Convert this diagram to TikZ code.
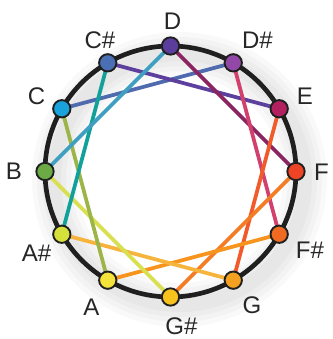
\documentclass[tikz,border=0pt]{standalone}
\usepackage{fontspec}
\setmainfont{Liberation Sans}
\definecolor{notaC}{HTML}{1AA3DA}
\definecolor{notaCs}{HTML}{4A6FB5}
\definecolor{notaD}{HTML}{5B3E9C}
\definecolor{notaDs}{HTML}{9248A6}
\definecolor{notaE}{HTML}{B3205F}
\definecolor{notaF}{HTML}{EE4426}
\definecolor{notaFs}{HTML}{F06A22}
\definecolor{notaG}{HTML}{F4A020}
\definecolor{notaGs}{HTML}{F7C21B}
\definecolor{notaA}{HTML}{F4E33A}
\definecolor{notaAs}{HTML}{D6E03A}
\definecolor{notaB}{HTML}{6BAA45}
\definecolor{lineaCDs}{HTML}{4F6BAE}
\definecolor{lineaCsE}{HTML}{5D3F9E}
\definecolor{lineaDF}{HTML}{8B2562}
\definecolor{lineaDsFs}{HTML}{D2416E}
\definecolor{lineaEG}{HTML}{F15A2B}
\definecolor{lineaFGs}{HTML}{F47C25}
\definecolor{lineaFsA}{HTML}{F7941D}
\definecolor{lineaGAs}{HTML}{F6B43C}
\definecolor{lineaGsB}{HTML}{D8E050}
\definecolor{lineaAC}{HTML}{9DB548}
\definecolor{lineaAsCs}{HTML}{12A19A}
\definecolor{lineaBD}{HTML}{3E9FC0}
\usetikzlibrary{
	positioning,
	calc,
	backgrounds
}
\tikzset{
	aro/.style={
		line width=4pt,
		draw=black!88
	},
	tono/.style={
		circle,
		draw=black!88,
		line width=1.6pt,
		minimum size=5.2mm,
		inner sep=0pt
	},
	etiqueta/.style={
		font=\fontsize{20.5}{24}\selectfont,
		inner sep=0pt,
		text=black!85
	},
	intervalo/.style={
		line width=3.2pt
	}
}

\begin{document}
\begin{tikzpicture}[x=0.3mm,y=0.3mm]
		\useasboundingbox (-170.5,-167.5) rectangle (161.5,171.5);
		% notas
		\node[tono, fill=notaD] (D) at (90:125.5) {};
		\node[tono, fill=notaDs] (Ds) at (60:125.5) {};
		\node[tono, fill=notaE] (E) at (30:125.5) {};
		\node[tono, fill=notaF] (F) at (0:125.5) {};
		\node[tono, fill=notaFs] (Fs) at (-30:125.5) {};
		\node[tono, fill=notaG] (G) at (-60:125.5) {};
		\node[tono, fill=notaGs] (Gs) at (-90:125.5) {};
		\node[tono, fill=notaA] (A) at (-120:125.5) {};
		\node[tono, fill=notaAs] (As) at (-150:125.5) {};
		\node[tono, fill=notaB] (B) at (180:125.5) {};
		\node[tono, fill=notaC] (C) at (150:125.5) {};
		\node[tono, fill=notaCs] (Cs) at (120:125.5) {};
		% sombra y aro
		\begin{scope}[on background layer]
		\foreach \w in {44,34,24,14}
			\draw[black, opacity=0.022, line width=\w*0.3mm] (9,-8) circle (125.5);
		\draw[aro] (0,0) circle (125.5);
		\end{scope}
		% terceras menores
		\begin{scope}[on background layer]
		\draw[intervalo, lineaCDs] (C.center) -- (Ds.center);
		\draw[intervalo, lineaCsE] (Cs.center) -- (E.center);
		\draw[intervalo, lineaDF] (D.center) -- (F.center);
		\draw[intervalo, lineaDsFs] (Ds.center) -- (Fs.center);
		\draw[intervalo, lineaEG] (E.center) -- (G.center);
		\draw[intervalo, lineaFGs] (F.center) -- (Gs.center);
		\draw[intervalo, lineaFsA] (Fs.center) -- (A.center);
		\draw[intervalo, lineaGAs] (G.center) -- (As.center);
		\draw[intervalo, lineaGsB] (Gs.center) -- (B.center);
		\draw[intervalo, lineaAC] (A.center) -- (C.center);
		\draw[intervalo, lineaAsCs] (As.center) -- (Cs.center);
		\draw[intervalo, lineaBD] (B.center) -- (D.center);
		\end{scope}
		% nombres
		\node[etiqueta] (tD) at (2,150) {D};
		\node[etiqueta] (tDs) at (87,131.5) {D\#};
		\node[etiqueta] (tE) at (134.5,74.8) {E};
		\node[etiqueta] (tF) at (151,-0.5) {F};
		\node[etiqueta] (tFs) at (139.5,-78.5) {F\#};
		\node[etiqueta] (tG) at (81.5,-133.5) {G};
		\node[etiqueta] (tGs) at (11,-154.5) {G\#};
		\node[etiqueta] (tA) at (-79,-136) {A};
		\node[etiqueta] (tAs) at (-134,-81.5) {A\#};
		\node[etiqueta] (tB) at (-156.5,0) {B};
		\node[etiqueta] (tC) at (-134,74.8) {C};
		\node[etiqueta] (tCs) at (-70.5,131.5) {C\#};
	\end{tikzpicture}
\end{document}
